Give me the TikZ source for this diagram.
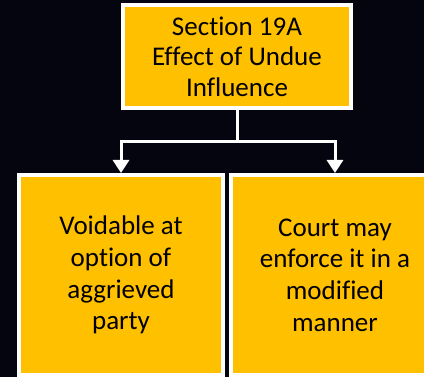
\documentclass[tikz,border=0pt]{standalone}
\usepackage{fontspec}
\setmainfont{Carlito}[Ligatures=NoCommon]
\usetikzlibrary{arrows.meta}

\definecolor{bgdark}{RGB}{5,5,15}
\definecolor{boxyellow}{RGB}{255,192,0}

\begin{document}
\begin{tikzpicture}[x=1pt,y=-1pt,
    box/.style={draw=white,line width=4pt,fill=boxyellow,align=center,
      text=black,font=\fontsize{27}{30.5}\selectfont},
    link/.style={draw=white,line width=3pt,-{Triangle[width=16pt,length=13pt]}}]
    % page and backdrop
    \useasboundingbox (0,0) rectangle (424,377);
    \clip (0,0) rectangle (424,377);
    \fill[bgdark] (0,0) rectangle (424,377);
    % the three boxes
    \node[box,minimum width=228pt,minimum height=103pt] (sec) at (237,56.5)
      {Section 19A\\Effect of Undue\\Influence};
    \node[box,minimum width=204pt,minimum height=200pt,
      font=\fontsize{27}{31.7}\selectfont] (voidable) at (121,275)
      {Voidable at\\option of\\aggrieved\\party};
    \node[box,minimum width=208pt,minimum height=200pt,
      font=\fontsize{27}{31.7}\selectfont] (court) at (335,275)
      {Court may\\enforce it in a\\modified\\manner};
    % connectors
    \coordinate (split) at (237,142);
    \draw[line width=3pt,white] (sec.south) -- (split);
    \draw[link] (split) -| (voidable.north);
    \draw[link] (split) -| (court.north);
\end{tikzpicture}
\end{document}
